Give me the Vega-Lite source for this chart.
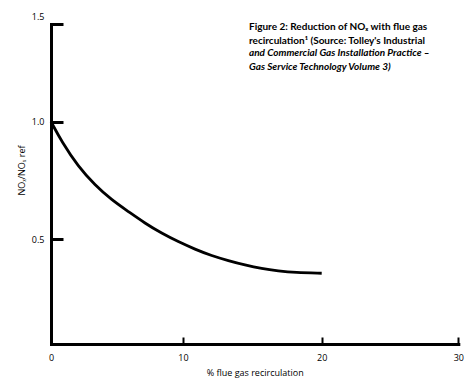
{
  "$schema": "https://vega.github.io/schema/vega-lite/v6.json",
  "width": 407,
  "height": 320,
  "autosize": {"type": "none"},
  "padding": {"left": 51, "top": 24, "right": 18, "bottom": 45},
  "background": "white",
  "config": {"view": {"stroke": null}},
  "title": {
    "text": ["Figure 2: Reduction of NOₓ with flue gas", "recirculation¹ (Source: Tolley's Industrial"],
    "subtitle": ["and Commercial Gas Installation Practice –", "Gas Service Technology Volume 3)"],
    "anchor": "start",
    "frame": "group",
    "orient": "top",
    "align": "left",
    "dx": 198,
    "dy": 60,
    "offset": 0,
    "font": "Lato",
    "fontSize": 10,
    "fontWeight": "bold",
    "color": "black",
    "lineHeight": 13.3,
    "subtitleFont": "Lato",
    "subtitleFontSize": 10,
    "subtitleFontWeight": "bold",
    "subtitleFontStyle": "italic",
    "subtitleColor": "black",
    "subtitleLineHeight": 14.3,
    "subtitlePadding": 2
  },
  "data": {
    "values": [
      {"recirculation": 0, "ratio": 1.0},
      {"recirculation": 0.81, "ratio": 0.915},
      {"recirculation": 2.07, "ratio": 0.808},
      {"recirculation": 3.33, "ratio": 0.73},
      {"recirculation": 4.6, "ratio": 0.666},
      {"recirculation": 5.86, "ratio": 0.617},
      {"recirculation": 7.12, "ratio": 0.567},
      {"recirculation": 8.39, "ratio": 0.524},
      {"recirculation": 9.64, "ratio": 0.487},
      {"recirculation": 10.87, "ratio": 0.451},
      {"recirculation": 12.07, "ratio": 0.42},
      {"recirculation": 13.27, "ratio": 0.397},
      {"recirculation": 14.47, "ratio": 0.376},
      {"recirculation": 15.67, "ratio": 0.359},
      {"recirculation": 16.87, "ratio": 0.348},
      {"recirculation": 18.08, "ratio": 0.34},
      {"recirculation": 20.0, "ratio": 0.337}
    ]
  },
  "mark": {"type": "line", "color": "black", "strokeWidth": 2.8, "interpolate": "basis"},
  "encoding": {
    "x": {
      "field": "recirculation",
      "type": "quantitative",
      "scale": {"domain": [0, 10, 20, 30], "range": [0, 132, 270.7, 407.3], "nice": false, "zero": false},
      "axis": {
        "title": "% flue gas recirculation",
        "values": [0, 10, 20, 30],
        "grid": false,
        "domainColor": "black",
        "domainWidth": 3,
        "domainCap": "square",
        "tickColor": "black",
        "tickWidth": 2,
        "tickSize": -7,
        "labelPadding": 16,
        "labelFlush": false,
        "labelOverlap": false,
        "labelFont": "Open Sans",
        "labelFontSize": 9,
        "labelColor": "black",
        "titleFont": "Open Sans",
        "titleFontSize": 9,
        "titleFontWeight": "normal",
        "titleColor": "black",
        "titlePadding": 6
      }
    },
    "y": {
      "field": "ratio",
      "type": "quantitative",
      "scale": {"domain": [0, 0.5, 1, 1.5], "range": [320, 215, 97.7, 0], "nice": false, "zero": false},
      "axis": {
        "title": "NOₓ/NOₓ ref",
        "values": [0.5, 1, 1.5],
        "format": ".1f",
        "grid": false,
        "domainColor": "black",
        "domainWidth": 3,
        "domainCap": "square",
        "tickColor": "black",
        "tickWidth": 3,
        "tickSize": -12,
        "labelPadding": 19,
        "labelOffset": {"condition": {"test": "datum.value === 1.5", "value": -8}, "value": 0},
        "labelFlush": false,
        "labelOverlap": false,
        "labelFont": "Open Sans",
        "labelFontSize": 9,
        "labelColor": "black",
        "titleFont": "Open Sans",
        "titleFontSize": 9,
        "titleFontWeight": "normal",
        "titleColor": "black",
        "titlePadding": 5,
        "titleY": 146
      }
    }
  }
}
